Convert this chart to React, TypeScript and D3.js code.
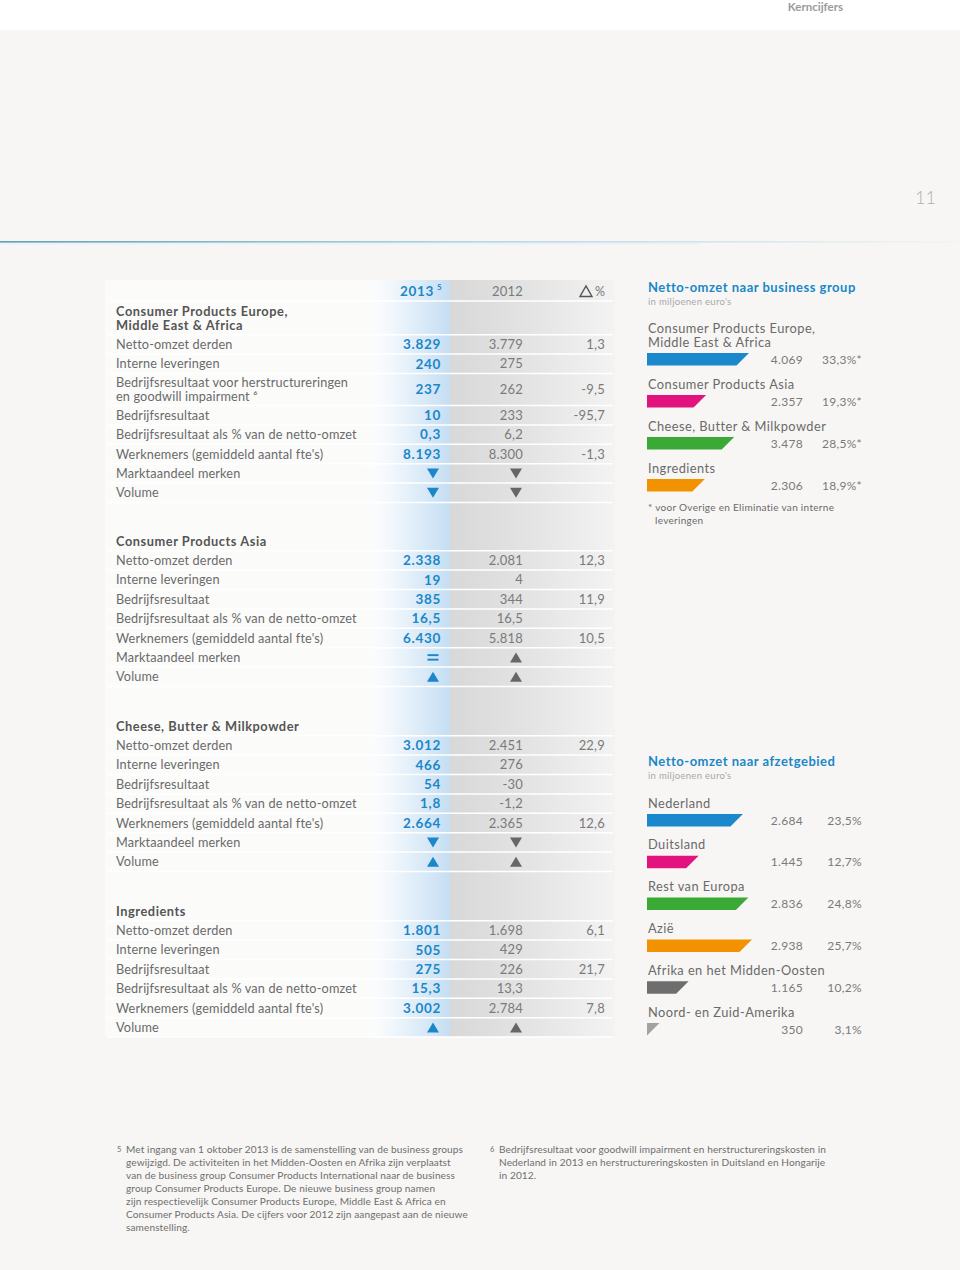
import React from "react";
import * as d3 from "d3";

// ---------- Data ----------
const colHeaders = ["2013", "2012", "%"];

const sectionTitles = [
  ["Consumer Products Europe,", "Middle East & Africa"],
  ["Consumer Products Asia"],
  ["Cheese, Butter & Milkpowder"],
  ["Ingredients"],
];

const cpeLabels = [
  "Netto-omzet derden",
  "Interne leveringen",
  "Bedrijfsresultaat voor herstructureringen|en goodwill impairment ⁶",
  "Bedrijfsresultaat",
  "Bedrijfsresultaat als % van de netto-omzet",
  "Werknemers (gemiddeld aantal fte's)",
  "Marktaandeel merken",
  "Volume",
];
const cpe2013 = ["3.829", "240", "237", "10", "0,3", "8.193", "down", "down"];
const cpe2012 = ["3.779", "275", "262", "233", "6,2", "8.300", "down", "down"];
const cpeDelta = ["1,3", "", "-9,5", "-95,7", "", "-1,3", "", ""];

const cpaLabels = [
  "Netto-omzet derden",
  "Interne leveringen",
  "Bedrijfsresultaat",
  "Bedrijfsresultaat als % van de netto-omzet",
  "Werknemers (gemiddeld aantal fte's)",
  "Marktaandeel merken",
  "Volume",
];
const cpa2013 = ["2.338", "19", "385", "16,5", "6.430", "eq", "up"];
const cpa2012 = ["2.081", "4", "344", "16,5", "5.818", "up", "up"];
const cpaDelta = ["12,3", "", "11,9", "", "10,5", "", ""];

const cbmLabels = cpaLabels;
const cbm2013 = ["3.012", "466", "54", "1,8", "2.664", "down", "up"];
const cbm2012 = ["2.451", "276", "-30", "-1,2", "2.365", "down", "up"];
const cbmDelta = ["22,9", "", "", "", "12,6", "", ""];

const ingLabels = [
  "Netto-omzet derden",
  "Interne leveringen",
  "Bedrijfsresultaat",
  "Bedrijfsresultaat als % van de netto-omzet",
  "Werknemers (gemiddeld aantal fte's)",
  "Volume",
];
const ing2013 = ["1.801", "505", "275", "15,3", "3.002", "up"];
const ing2012 = ["1.698", "429", "226", "13,3", "2.784", "up"];
const ingDelta = ["6,1", "", "21,7", "", "7,8", ""];

// Right panel 1: business groups
const bgLabels = [
  "Consumer Products Europe,|Middle East & Africa",
  "Consumer Products Asia",
  "Cheese, Butter & Milkpowder",
  "Ingredients",
];
const bgValues = [4069, 2357, 3478, 2306];
const bgValueText = ["4.069", "2.357", "3.478", "2.306"];
const bgPct = ["33,3%*", "19,3%*", "28,5%*", "18,9%*"];
const bgColors = ["#1b87cc", "#e2127f", "#3aa935", "#f39200"];

// Right panel 2: regions
const regLabels = [
  "Nederland",
  "Duitsland",
  "Rest van Europa",
  "Azië",
  "Afrika en het Midden-Oosten",
  "Noord- en Zuid-Amerika",
];
const regValues = [2684, 1445, 2836, 2938, 1165, 350];
const regValueText = ["2.684", "1.445", "2.836", "2.938", "1.165", "350"];
const regPct = ["23,5%", "12,7%", "24,8%", "25,7%", "10,2%", "3,1%"];
const regColors = ["#1b87cc", "#e2127f", "#3aa935", "#f39200", "#6e6e6e", "#a2a2a2"];

const footnote5 = [
  "Met ingang van 1 oktober 2013 is de samenstelling van de business groups",
  "gewijzigd. De activiteiten in het Midden-Oosten en Afrika zijn verplaatst",
  "van de business group Consumer Products International naar de business",
  "group Consumer Products Europe. De nieuwe business group namen",
  "zijn respectievelijk Consumer Products Europe, Middle East & Africa en",
  "Consumer Products Asia. De cijfers voor 2012 zijn aangepast aan de nieuwe",
  "samenstelling.",
];
const footnote6 = [
  "Bedrijfsresultaat voor goodwill impairment en herstructureringskosten in",
  "Nederland in 2013 en herstructureringskosten in Duitsland en Hongarije",
  "in 2012.",
];

// ---------- Styling ----------
const FONT = "Lato, 'Open Sans', sans-serif";
const NARROW = "Lato, sans-serif";
const BLUE = "#1b87c9";
const LABEL = "#6a6a6a";
const GREY = "#7a7a7a";

const TL = 116; // table label x
const C13 = 441; // 2013 right edge
const C12 = 523;
const CD = 605;
const A13 = 433;
const A12 = 516;
const ROW = 19.4;
const LINE = 13.4;

type Sec = { titleY: number; title: string[]; labels: string[]; v13: string[]; v12: string[]; d: string[] };
const sections: Sec[] = [
  { titleY: 311.6, title: sectionTitles[0], labels: cpeLabels, v13: cpe2013, v12: cpe2012, d: cpeDelta },
  { titleY: 541, title: sectionTitles[1], labels: cpaLabels, v13: cpa2013, v12: cpa2012, d: cpaDelta },
  { titleY: 726, title: sectionTitles[2], labels: cbmLabels, v13: cbm2013, v12: cbm2012, d: cbmDelta },
  { titleY: 911, title: sectionTitles[3], labels: ingLabels, v13: ing2013, v12: ing2012, d: ingDelta },
];

function Arrow({ kind, cx, cy, color }: { kind: string; cx: number; cy: number; color: string }) {
  if (kind === "down")
    return <polygon points={`${cx - 6},${cy - 5} ${cx + 6},${cy - 5} ${cx},${cy + 5}`} fill={color} />;
  if (kind === "up")
    return <polygon points={`${cx - 6},${cy + 5} ${cx + 6},${cy + 5} ${cx},${cy - 5}`} fill={color} />;
  return (
    <g fill={color}>
      <rect x={cx - 5.5} y={cy - 3.2} width={11} height={1.9} />
      <rect x={cx - 5.5} y={cy + 1.3} width={11} height={1.9} />
    </g>
  );
}

function Cell({ v, x, ax, y, color, weight }: { v: string; x: number; ax: number; y: number; color: string; weight: number }) {
  if (v === "up" || v === "down" || v === "eq") return <Arrow kind={v} cx={ax} cy={y} color={color} />;
  return (
    <text x={x} y={y} dy="0.36em" textAnchor="end" fill={color} fontWeight={weight} fontSize={weight > 500 ? 13.5 : 13} letterSpacing={weight > 500 ? 0.7 : 0.2}>
      {v}
    </text>
  );
}

function Section({ s }: { s: Sec }) {
  const lastTitleY = s.titleY + (s.title.length - 1) * LINE;
  const rows: { y: number; half: number }[] = [];
  let y = lastTitleY + 9.7;
  s.labels.forEach((l) => {
    const half = l.includes("|") ? 16 : ROW / 2;
    rows.push({ y: y + half, half });
    y += half * 2;
  });
  const seps = [lastTitleY + 9.7, ...rows.map((r) => r.y + r.half)];
  return (
    <g fontFamily={FONT}>
      {seps.map((sy, i) => (
        <line key={i} x1={108} x2={613} y1={sy} y2={sy} stroke="#ffffff" strokeWidth={1.5} />
      ))}
      {s.title.map((t, i) => (
        <text key={i} x={TL} y={s.titleY + i * LINE} dy="0.36em" fontSize={12.8} fontWeight={700} fill="#555" letterSpacing={0.55}>
          {t}
        </text>
      ))}
      {s.labels.map((l, i) => {
        const lines = l.split("|");
        const r = rows[i];
        return (
          <g key={i}>
            {lines.map((ln, j) => (
              <text key={j} x={TL} y={r.y + (j - (lines.length - 1) / 2) * LINE} dy="0.36em" fontSize={12.7} fill={LABEL} letterSpacing={0.15}>
                {ln}
              </text>
            ))}
            <Cell v={s.v13[i]} x={C13} ax={A13} y={r.y} color={BLUE} weight={700} />
            <Cell v={s.v12[i]} x={C12} ax={A12} y={r.y} color={/\d/.test(s.v12[i]) ? GREY : "#666"} weight={400} />
            <Cell v={s.d[i]} x={CD} ax={CD} y={r.y} color={GREY} weight={400} />
          </g>
        );
      })}
    </g>
  );
}

function barPath(x0: number, y0: number, w: number, h: number) {
  const s = h;
  const bx = Math.max(x0, x0 + w - s);
  return `M${x0},${y0}L${x0 + w},${y0}L${bx},${y0 + h}L${x0},${y0 + h}Z`;
}

export default function App() {
  const bx = 647;
  const bgScale = d3.scaleLinear().domain([0, d3.max(bgValues)!]).range([0, 102]);
  const regScale = d3.scaleLinear().domain([0, d3.max(regValues)!]).range([0, 105]);
  const bgLabelY = [328.6, 384, 426, 468];
  const regY0 = 803;
  const regStep = 41.8;

  return (
    <svg width={960} height={1270} style={{ position: "absolute", left: 0, top: 0, display: "block" }}>
      <defs>
        <linearGradient id="blueBand" x1="0" x2="1" y1="0" y2="0">
          <stop offset="0" stopColor="#ffffff" stopOpacity={0} />
          <stop offset="0.35" stopColor="#f1f7fc" />
          <stop offset="1" stopColor="#c5def3" />
        </linearGradient>
        <linearGradient id="greyBand" x1="0" x2="1" y1="0" y2="0">
          <stop offset="0" stopColor="#d8d8d8" />
          <stop offset="0.5" stopColor="#e4e4e4" />
          <stop offset="1" stopColor="#f3f3f3" />
        </linearGradient>
        <linearGradient id="rule" x1="0" x2="1" y1="0" y2="0">
          <stop offset="0" stopColor="#5f9fb2" />
          <stop offset="0.5" stopColor="#b5d6e2" />
          <stop offset="1" stopColor="#f4f4f4" />
        </linearGradient>
      </defs>
      <rect x={0} y={0} width={960} height={1270} fill="#f7f6f4" />
      <rect x={0} y={0} width={960} height={30} fill="#ffffff" />
      <text x={843} y={7} dy="0.36em" textAnchor="end" fontFamily={NARROW} fontWeight={700} fontSize={11.5} fill="#9a9a9a">
        Kerncijfers
      </text>
      <text x={936} y={198} dy="0.36em" textAnchor="end" fontFamily={FONT} fontSize={18} fill="#b0b0b0" fontWeight={300}>
        11
      </text>
      <rect x={0} y={241} width={960} height={1.6} fill="url(#rule)" />
      <rect x={0} y={243} width={700} height={1.5} fill="#e8f3f8" />

      {/* table panel */}
      <rect x={105} y={280} width={510} height={757} fill="#ffffff" opacity={0.55} />
      <rect x={360} y={280} width={90} height={757} fill="url(#blueBand)" />
      <rect x={450} y={280} width={165} height={757} fill="url(#greyBand)" />

      {/* header */}
      <g fontFamily={FONT}>
        <line x1={108} x2={613} y1={301} y2={301} stroke="#fff" strokeWidth={1.5} />
        <text x={434} y={291} dy="0.36em" textAnchor="end" fontSize={13.5} fontWeight={700} fill={BLUE} letterSpacing={0.7}>
          {colHeaders[0]}
        </text>
        <text x={437} y={287} dy="0.36em" fontSize={8} fontWeight={700} fill={BLUE}>5</text>
        <text x={C12} y={291} dy="0.36em" textAnchor="end" fontSize={13} fill={GREY} letterSpacing={0.2}>
          {colHeaders[1]}
        </text>
        <polygon points="580,296.5 592,296.5 586,286" fill="none" stroke="#555" strokeWidth={1.4} />
        <text x={CD} y={291} dy="0.36em" textAnchor="end" fontSize={12.5} fill={GREY}>
          {colHeaders[2]}
        </text>
      </g>

      {sections.map((s, i) => (
        <Section key={i} s={s} />
      ))}

      {/* Right panel 1 */}
      <g fontFamily={FONT}>
        <text x={648} y={287} dy="0.36em" fontSize={13} fontWeight={700} fill={BLUE} letterSpacing={0.5}>
          Netto-omzet naar business group
        </text>
        <text x={648} y={302} dy="0.36em" fontSize={9.5} fill="#a8a8a8" letterSpacing={0.3}>
          in miljoenen euro's
        </text>
        {bgLabels.map((l, i) => {
          const lines = l.split("|");
          const ly = bgLabelY[i];
          const barTop = ly + (lines.length - 1) * LINE + 11;
          return (
            <g key={i}>
              {lines.map((ln, j) => (
                <text key={j} x={648} y={ly + j * LINE} dy="0.36em" fontSize={12.8} fill={LABEL} letterSpacing={0.45}>
                  {ln}
                </text>
              ))}
              <path d={barPath(bx, barTop, bgScale(bgValues[i]), 12.5)} fill={bgColors[i]} />
              <text x={803} y={barTop + 6.2} dy="0.36em" textAnchor="end" fontSize={12} fill={GREY} letterSpacing={0.3}>
                {bgValueText[i]}
              </text>
              <text x={862} y={barTop + 6.2} dy="0.36em" textAnchor="end" fontSize={12} fill={GREY} letterSpacing={0.3}>
                {bgPct[i]}
              </text>
            </g>
          );
        })}
        <text x={648} y={507} dy="0.36em" fontSize={10} fill={LABEL} letterSpacing={0.3}>
          * voor Overige en Eliminatie van interne
        </text>
        <text x={655} y={520} dy="0.36em" fontSize={10} fill={LABEL} letterSpacing={0.3}>
          leveringen
        </text>
      </g>

      {/* Right panel 2 */}
      <g fontFamily={FONT}>
        <text x={648} y={761} dy="0.36em" fontSize={13} fontWeight={700} fill={BLUE} letterSpacing={0.5}>
          Netto-omzet naar afzetgebied
        </text>
        <text x={648} y={776} dy="0.36em" fontSize={9.5} fill="#a8a8a8" letterSpacing={0.3}>
          in miljoenen euro's
        </text>
        {regLabels.map((l, i) => {
          const ly = regY0 + i * regStep;
          const barTop = ly + 11;
          return (
            <g key={i}>
              <text x={648} y={ly} dy="0.36em" fontSize={12.8} fill={LABEL} letterSpacing={0.45}>
                {l}
              </text>
              <path d={barPath(bx, barTop, regScale(regValues[i]), 12.5)} fill={regColors[i]} />
              <text x={803} y={barTop + 6.2} dy="0.36em" textAnchor="end" fontSize={12} fill={GREY} letterSpacing={0.3}>
                {regValueText[i]}
              </text>
              <text x={862} y={barTop + 6.2} dy="0.36em" textAnchor="end" fontSize={12} fill={GREY} letterSpacing={0.3}>
                {regPct[i]}
              </text>
            </g>
          );
        })}
      </g>

      {/* Footnotes */}
      <g fontFamily={NARROW} fontSize={10.1} fill="#6e6e6e" letterSpacing={0.1}>
        <text x={117} y={1149} dy="0.36em" fontSize={7.5}>5</text>
        {footnote5.map((t, i) => (
          <text key={i} x={126} y={1149 + i * 13} dy="0.36em">
            {t}
          </text>
        ))}
        <text x={490} y={1149} dy="0.36em" fontSize={7.5}>6</text>
        {footnote6.map((t, i) => (
          <text key={i} x={499} y={1149 + i * 13} dy="0.36em">
            {t}
          </text>
        ))}
      </g>
    </svg>
  );
}
